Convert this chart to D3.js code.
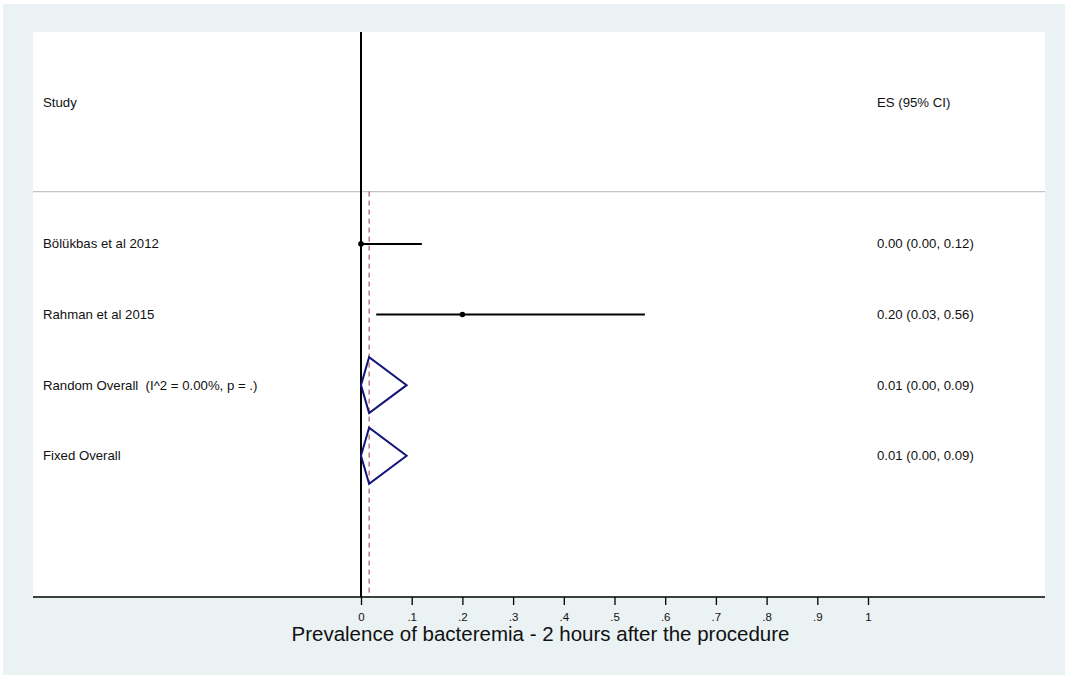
<!DOCTYPE html>
<html>
<head>
<meta charset="utf-8">
<script src="https://cdn.jsdelivr.net/npm/d3@7"></script>
<style>
  html, body { margin: 0; padding: 0; background: #ffffff; }
  svg { display: block; }
  text { font-family: "Liberation Sans", Arial, sans-serif; white-space: pre; }
</style>
</head>
<body>
<script>
// ---------- data ----------
const studies   = ["Bölükbas et al 2012", "Rahman et al 2015"];
const studyES   = [0.00, 0.20];
const studyLo   = [0.00, 0.03];
const studyHi   = [0.12, 0.56];
const studyText = ["0.00 (0.00, 0.12)", "0.20 (0.03, 0.56)"];

const pooled      = ["Random Overall  (I^2 = 0.00%, p = .)", "Fixed Overall"];
const pooledES    = [0.016, 0.016];
const pooledLo    = [0.00, 0.00];
const pooledHi    = [0.09, 0.09];
const pooledText  = ["0.01 (0.00, 0.09)", "0.01 (0.00, 0.09)"];

const tickValues = [0, 0.1, 0.2, 0.3, 0.4, 0.5, 0.6, 0.7, 0.8, 0.9, 1];
const tickLabels = ["0", ".1", ".2", ".3", ".4", ".5", ".6", ".7", ".8", ".9", "1"];
const headerLeft = "Study";
const headerRight = "ES (95% CI)";
const xTitle = "Prevalence of bacteremia - 2 hours after the procedure";

// ---------- layout ----------
const W = 1065, H = 675;
const plot = { left: 33, right: 1045, top: 32, bottom: 597 };
const FS = 13.2;

const svg = d3.select("body").append("svg").attr("width", W).attr("height", H);

// outer graph region
svg.append("rect").attr("x", 3).attr("y", 4).attr("width", W - 3).attr("height", H - 4)
  .attr("fill", "#eaf2f3");
// plot region
svg.append("rect").attr("x", plot.left).attr("y", plot.top)
  .attr("width", plot.right - plot.left).attr("height", plot.bottom - plot.top)
  .attr("fill", "#ffffff");

const x = d3.scaleLinear().domain([0, 1]).range([361, 868]);
const y = d3.scaleLinear().domain([-1, 7]).range([plot.top, plot.bottom]);

// header separator
svg.append("line")
  .attr("x1", plot.left).attr("x2", plot.right)
  .attr("y1", y(1.26)).attr("y2", y(1.26))
  .attr("stroke", "#c4c4c4").attr("stroke-width", 1.2);

// null line at 0
svg.append("line")
  .attr("x1", x(0)).attr("x2", x(0))
  .attr("y1", plot.top).attr("y2", plot.bottom)
  .attr("stroke", "#000").attr("stroke-width", 2);

// overall dashed line
svg.append("line")
  .attr("x1", x(pooledES[0])).attr("x2", x(pooledES[0]))
  .attr("y1", y(1.26)).attr("y2", plot.bottom)
  .attr("stroke", "#9a3b45").attr("stroke-width", 1)
  .attr("stroke-dasharray", "5,4");

const txtFill = "#111";

// header texts
svg.append("text").attr("x", 43).attr("y", y(0)).attr("dy", "0.35em")
  .attr("font-size", FS).attr("fill", txtFill).text(headerLeft);
svg.append("text").attr("x", 877).attr("y", y(0)).attr("dy", "0.35em")
  .attr("font-size", FS).attr("fill", txtFill).text(headerRight);

// study rows
const rows = studies.map((s, i) => ({ label: s, es: studyES[i], lo: studyLo[i], hi: studyHi[i], txt: studyText[i], idx: 2 + i }));
const g = svg.append("g");
g.selectAll("line.ci").data(rows).join("line")
  .attr("class", "ci")
  .attr("x1", d => x(d.lo)).attr("x2", d => x(d.hi))
  .attr("y1", d => y(d.idx)).attr("y2", d => y(d.idx))
  .attr("stroke", "#000").attr("stroke-width", 2);
g.selectAll("circle.pt").data(rows).join("circle")
  .attr("class", "pt")
  .attr("cx", d => x(d.es)).attr("cy", d => y(d.idx)).attr("r", 2.8)
  .attr("fill", "#000");
g.selectAll("text.lab").data(rows).join("text")
  .attr("class", "lab").attr("x", 43).attr("y", d => y(d.idx)).attr("dy", "0.35em")
  .attr("font-size", FS).attr("fill", txtFill).text(d => d.label);
g.selectAll("text.es").data(rows).join("text")
  .attr("class", "es").attr("x", 877).attr("y", d => y(d.idx)).attr("dy", "0.35em")
  .attr("font-size", FS).attr("fill", txtFill).text(d => d.txt);

// pooled rows
const prow = pooled.map((s, i) => ({ label: s, es: pooledES[i], lo: pooledLo[i], hi: pooledHi[i], txt: pooledText[i], idx: 4 + i }));
const half = 28;
g.selectAll("path.dia").data(prow).join("path")
  .attr("class", "dia")
  .attr("d", d => {
    const cy = y(d.idx);
    return `M${x(d.lo)},${cy}L${x(d.es)},${cy - half}L${x(d.hi)},${cy}L${x(d.es)},${cy + half}Z`;
  })
  .attr("fill", "none").attr("stroke", "#14147a").attr("stroke-width", 2)
  .attr("stroke-linejoin", "miter");
g.selectAll("text.plab").data(prow).join("text")
  .attr("class", "plab").attr("x", 43).attr("y", d => y(d.idx)).attr("dy", "0.35em")
  .attr("font-size", FS).attr("fill", txtFill).text(d => d.label);
g.selectAll("text.pes").data(prow).join("text")
  .attr("class", "pes").attr("x", 877).attr("y", d => y(d.idx)).attr("dy", "0.35em")
  .attr("font-size", FS).attr("fill", txtFill).text(d => d.txt);

// x axis
svg.append("line").attr("x1", plot.left).attr("x2", plot.right)
  .attr("y1", plot.bottom).attr("y2", plot.bottom)
  .attr("stroke", "#000").attr("stroke-width", 1.5);
const axis = d3.axisBottom(x).tickValues(tickValues)
  .tickFormat((d, i) => tickLabels[i]).tickSize(8).tickSizeOuter(0).tickPadding(8);
const ax = svg.append("g").attr("transform", `translate(0,${plot.bottom})`).call(axis);
ax.select(".domain").remove();
ax.selectAll(".tick line").attr("stroke", "#000").attr("stroke-width", 1.3);
ax.selectAll(".tick text").attr("font-size", 11.5).attr("fill", txtFill)
  .attr("font-family", "Liberation Sans, Arial, sans-serif");

// axis title
svg.append("text").attr("x", 540.5).attr("y", 641)
  .attr("text-anchor", "middle").attr("font-size", 20.5).attr("fill", txtFill)
  .text(xTitle);
</script>
</body>
</html>
